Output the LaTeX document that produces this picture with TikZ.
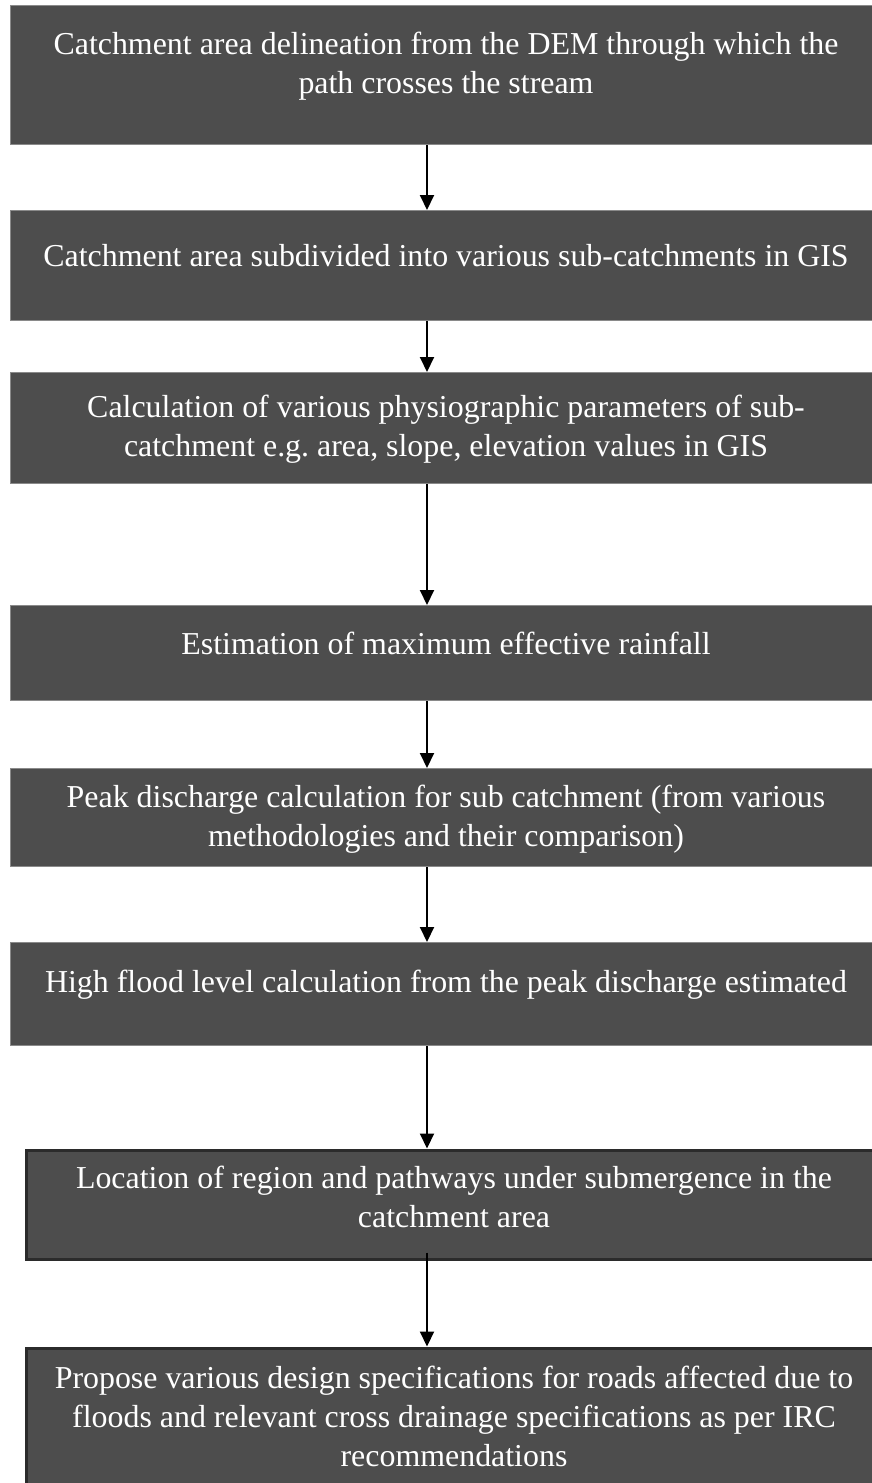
\documentclass[tikz,border=0pt]{standalone}
\usepackage{fontspec}
\setmainfont{Liberation Serif}
\usetikzlibrary{arrows.meta}
\definecolor{boxfill}{HTML}{4D4D4D}
\definecolor{boxedge}{HTML}{8A8A8A}
\definecolor{darkedge}{HTML}{2B2B2B}
\tikzset{
  box/.style={rectangle, fill=boxfill, draw=boxedge, line width=1pt, anchor=north west, inner sep=0pt, minimum width=880pt},
  boxdark/.style={rectangle, fill=boxfill, draw=darkedge, line width=3pt, anchor=north west, inner sep=0pt, minimum width=870pt},
  label/.style={text=white, align=center, inner sep=0pt, font=\fontsize{31.9}{39}\selectfont},
  arr/.style={-{Triangle[length=15pt,width=14pt]}, line width=2pt, black},
}
\begin{document}
\begin{tikzpicture}[x=1pt,y=-1pt]
\useasboundingbox (0,0) rectangle (872,1483);
\clip (0,0) rectangle (872,1483);
\coordinate (ax) at (427,0);
\node[box, minimum height=139pt] (b1) at (10,5) {};
\node[box, minimum height=110pt] (b2) at (10,210) {};
\node[box, minimum height=111pt] (b3) at (10,372) {};
\node[box, minimum height=95pt] (b4) at (10,605) {};
\node[box, minimum height=98pt] (b5) at (10,768) {};
\node[box, minimum height=103pt] (b6) at (10,942) {};
\node[boxdark, minimum height=109pt] (b7) at (24.5,1148.5) {};
\node[boxdark, minimum height=160pt] (b8) at (24.5,1346.5) {};
\node[label] (t1) at (446,66) {Catchment area delineation from the DEM through which the\\path crosses the stream};
\node[label] (t2) at (446,256) {Catchment area subdivided into various sub-catchments in GIS};
\node[label] (t3) at (446,429) {Calculation of various physiographic parameters of sub-\\catchment e.g.\ area, slope, elevation values in GIS};
\node[label] (t4) at (446,643) {Estimation of maximum effective rainfall};
\node[label] (t5) at (446,819) {Peak discharge calculation for sub catchment (from various\\methodologies and their comparison)};
\node[label] (t6) at (446,985) {High flood level calculation from the peak discharge estimated};
\node[label] (t7) at (454,1197) {Location of region and pathways under submergence in the\\catchment area};
\node[label] (t8) at (454,1416) {Propose various design specifications for roads affected due to\\floods and relevant cross drainage specifications as per IRC\\recommendations};
\draw[arr] (b1.south -| ax) -- (b2.north -| ax);
\draw[arr] (b2.south -| ax) -- (b3.north -| ax);
\draw[arr] (b3.south -| ax) -- (b4.north -| ax);
\draw[arr] (b4.south -| ax) -- (b5.north -| ax);
\draw[arr] (b5.south -| ax) -- (b6.north -| ax);
\draw[arr] (b6.south -| ax) -- (b7.north -| ax);
\draw[arr] ([yshift=8pt]b7.south -| ax) -- (b8.north -| ax);
\end{tikzpicture}
\end{document}
